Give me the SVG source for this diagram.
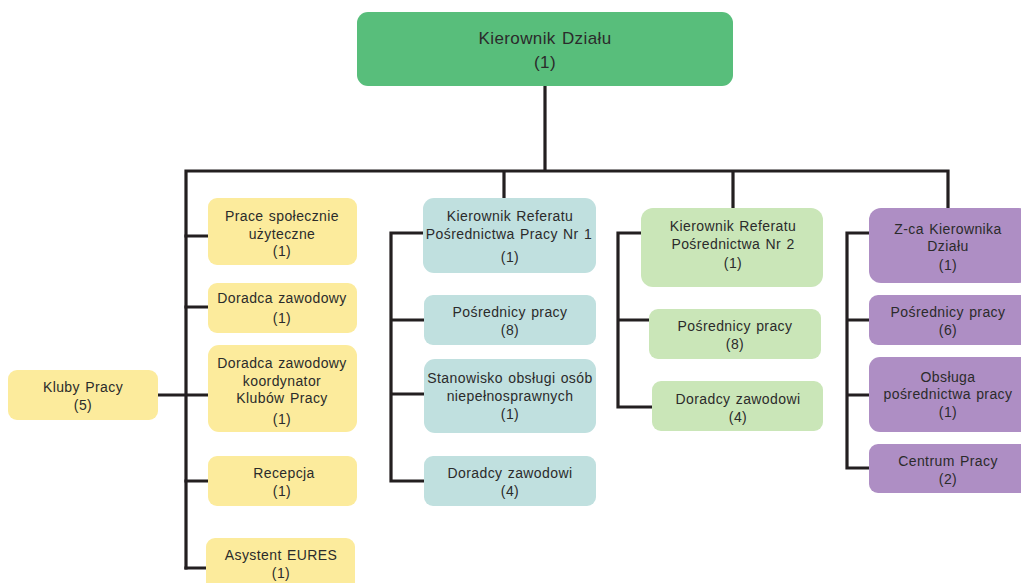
<svg xmlns="http://www.w3.org/2000/svg" width="1021" height="583" viewBox="0 0 1021 583">
<style>
text{font-family:"Liberation Sans",Arial,sans-serif;font-size:14px;fill:#2b2b2b;text-anchor:middle;letter-spacing:0.4px;word-spacing:1px}
.top{font-size:17px}
.y{fill:#FCEB9C}
.t{fill:#C0E0DF}
.g{fill:#CAE6B8}
.p{fill:#AE8EC4}
.c{fill:none;stroke:#231F20;stroke-width:3.2;stroke-linecap:square;stroke-linejoin:miter}
</style>
<rect width="1021" height="583" fill="#fff"/>
<g id="connectors">
<path class="c" d="M545 86V171M186 171H948M186 171V568M504 171V198M733 171V208M948 171V208"/>
<path class="c" d="M186 236H208M186 307H208M158 395H208M186 481H208M186 568H206"/>
<path class="c" d="M423 233H391V481H424M391 320H424M391 394H424"/>
<path class="c" d="M641 233H618V407H652M618 320H649"/>
<path class="c" d="M869 233H847V468H869M847 320H869M847 395H869"/>
</g>
<g id="n-kierownik">
<rect x="357" y="12" width="376" height="74" rx="11" fill="#58BE7B"/>
<text class="top" x="545" y="44">Kierownik Działu</text>
<text class="top" x="545" y="68">(1)</text>
</g>
<g id="n-kluby">
<rect class="y" x="8" y="370" width="150" height="50" rx="9"/>
<text x="83" y="392">Kluby Pracy</text>
<text x="83" y="410">(5)</text>
</g>
<g id="n-prace">
<rect class="y" x="208" y="198" width="149" height="67" rx="9"/>
<text x="282" y="221">Prace społecznie</text>
<text x="282" y="239">użyteczne</text>
<text x="282" y="256">(1)</text>
</g>
<g id="n-doradca">
<rect class="y" x="208" y="283" width="149" height="50" rx="9"/>
<text x="282" y="303">Doradca zawodowy</text>
<text x="282" y="323">(1)</text>
</g>
<g id="n-koordynator">
<rect class="y" x="208" y="345" width="149" height="87" rx="11"/>
<text x="282" y="368">Doradca zawodowy</text>
<text x="282" y="386">koordynator</text>
<text x="282" y="403">Klubów Pracy</text>
<text x="282" y="424">(1)</text>
</g>
<g id="n-recepcja">
<rect class="y" x="208" y="456" width="149" height="50" rx="9"/>
<text x="284" y="478">Recepcja</text>
<text x="282" y="496">(1)</text>
</g>
<g id="n-eures">
<rect class="y" x="206" y="538" width="149" height="55" rx="9"/>
<text x="281" y="560">Asystent EURES</text>
<text x="281" y="578">(1)</text>
</g>
<g id="n-ref1">
<rect class="t" x="423" y="198" width="173" height="75" rx="11"/>
<text x="510" y="221">Kierownik Referatu</text>
<text x="509" y="239">Pośrednictwa Pracy Nr 1</text>
<text x="510" y="262">(1)</text>
</g>
<g id="n-posr1">
<rect class="t" x="424" y="295" width="172" height="50" rx="9"/>
<text x="510" y="317">Pośrednicy pracy</text>
<text x="510" y="335">(8)</text>
</g>
<g id="n-stan">
<rect class="t" x="424" y="359" width="172" height="74" rx="11"/>
<text x="510" y="383">Stanowisko obsługi osób</text>
<text x="510" y="401">niepełnosprawnych</text>
<text x="510" y="419">(1)</text>
</g>
<g id="n-dor1">
<rect class="t" x="424" y="456" width="172" height="50" rx="9"/>
<text x="510" y="478">Doradcy zawodowi</text>
<text x="510" y="496">(4)</text>
</g>
<g id="n-ref2">
<rect class="g" x="641" y="208" width="182" height="79" rx="12"/>
<text x="733" y="231">Kierownik Referatu</text>
<text x="733" y="249">Pośrednictwa Nr 2</text>
<text x="733" y="268">(1)</text>
</g>
<g id="n-posr2">
<rect class="g" x="649" y="309" width="172" height="50" rx="9"/>
<text x="735" y="331">Pośrednicy pracy</text>
<text x="735" y="349">(8)</text>
</g>
<g id="n-dor2">
<rect class="g" x="652" y="381" width="171" height="50" rx="9"/>
<text x="738" y="404">Doradcy zawodowi</text>
<text x="738" y="422">(4)</text>
</g>
<g id="n-zca">
<rect class="p" x="869" y="208" width="162" height="75" rx="12"/>
<text x="948" y="234">Z-ca Kierownika</text>
<text x="948" y="251">Działu</text>
<text x="948" y="270">(1)</text>
</g>
<g id="n-posr3">
<rect class="p" x="869" y="295" width="162" height="50" rx="9"/>
<text x="948" y="317">Pośrednicy pracy</text>
<text x="948" y="335">(6)</text>
</g>
<g id="n-obsluga">
<rect class="p" x="869" y="357" width="162" height="75" rx="11"/>
<text x="948" y="382">Obsługa</text>
<text x="948" y="399">pośrednictwa pracy</text>
<text x="948" y="417">(1)</text>
</g>
<g id="n-centrum">
<rect class="p" x="869" y="444" width="162" height="49" rx="9"/>
<text x="948" y="466">Centrum Pracy</text>
<text x="948" y="484">(2)</text>
</g>
</svg>
